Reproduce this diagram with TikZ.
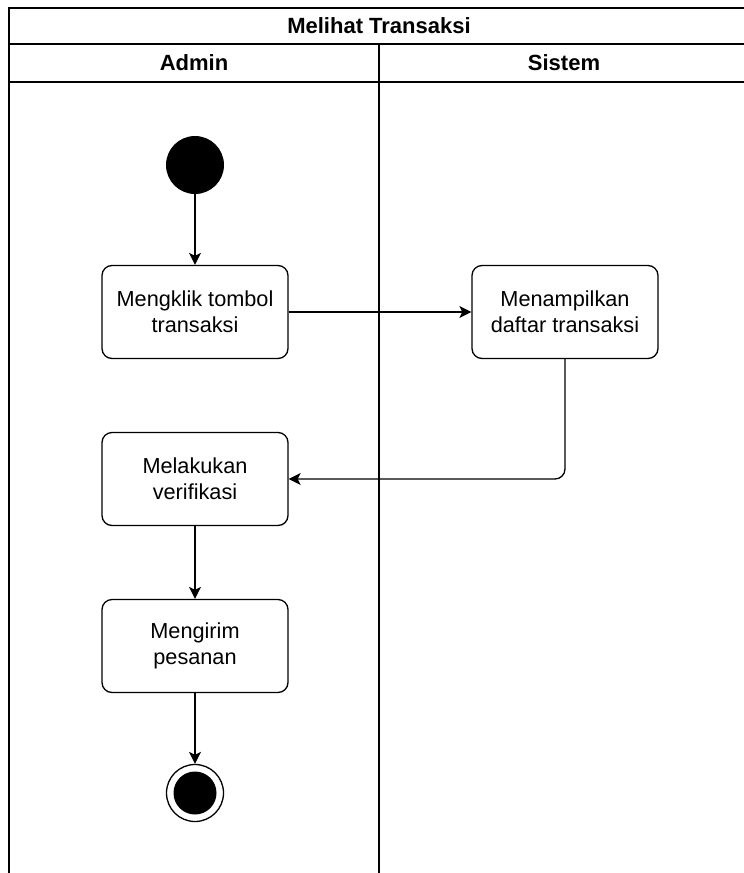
\documentclass[tikz,border=0pt]{standalone}
\usepackage{fontspec}
\setmainfont{Liberation Sans}
\usetikzlibrary{arrows.meta}
\usetikzlibrary{positioning}

\begin{document}
\begin{tikzpicture}[x=1pt,y=-1pt]

                \tikzstyle{lane}   = [line width=1.3pt]
                \tikzstyle{head}   = [font=\fontsize{22}{26}\selectfont\bfseries, inner sep=0pt]
                \tikzstyle{action} = [draw, line width=1.3pt, rounded corners=10pt, minimum width=186pt, minimum height=93pt, inner sep=0pt, align=center, font=\fontsize{21.7}{26}\selectfont]
                \tikzstyle{flow}   = [draw, line width=1.3pt, -{Stealth[length=12pt,width=12pt,inset=3pt]}]

                \useasboundingbox (0,0) rectangle (744,873);

                % swimlanes
                \draw [lane] (9,873) -- (9,8) -- (749,8) -- (749,82) -- (9,82);
                \draw [lane] (9,44) -- (749,44);
                \draw [lane] (379,44) -- (379,873);

                \node [head](title)  at (379,26) {Melihat Transaksi};
                \node [head](admin)  at (194,63) {Admin};
                \node [head](sistem) at (564,63) {Sistem};

                % nodes
                \node [circle, fill=black, minimum size=58pt, inner sep=0pt](start) at (195,165) {};
                \node [action](a1) at (195,312) {Mengklik tombol\\transaksi};
                \node [action](s1) at (565,312) {Menampilkan\\daftar transaksi};
                \node [action](a2) at (195,479) {Melakukan\\verifikasi};
                \node [action](a3) at (195,646) {Mengirim\\pesanan};
                \node [circle, draw, line width=1.3pt, minimum size=57pt, inner sep=0pt](stop) at (195,793) {};
                \fill (stop) circle (21.5pt);

                % flows
                \foreach \a/\b in {start/a1, a1/s1, a2/a3, a3/stop}
                {
                        \draw [flow] (\a) -- (\b);
                }
                \draw [flow, rounded corners=10pt] (s1) |- (a2);

\end{tikzpicture}
\end{document}
